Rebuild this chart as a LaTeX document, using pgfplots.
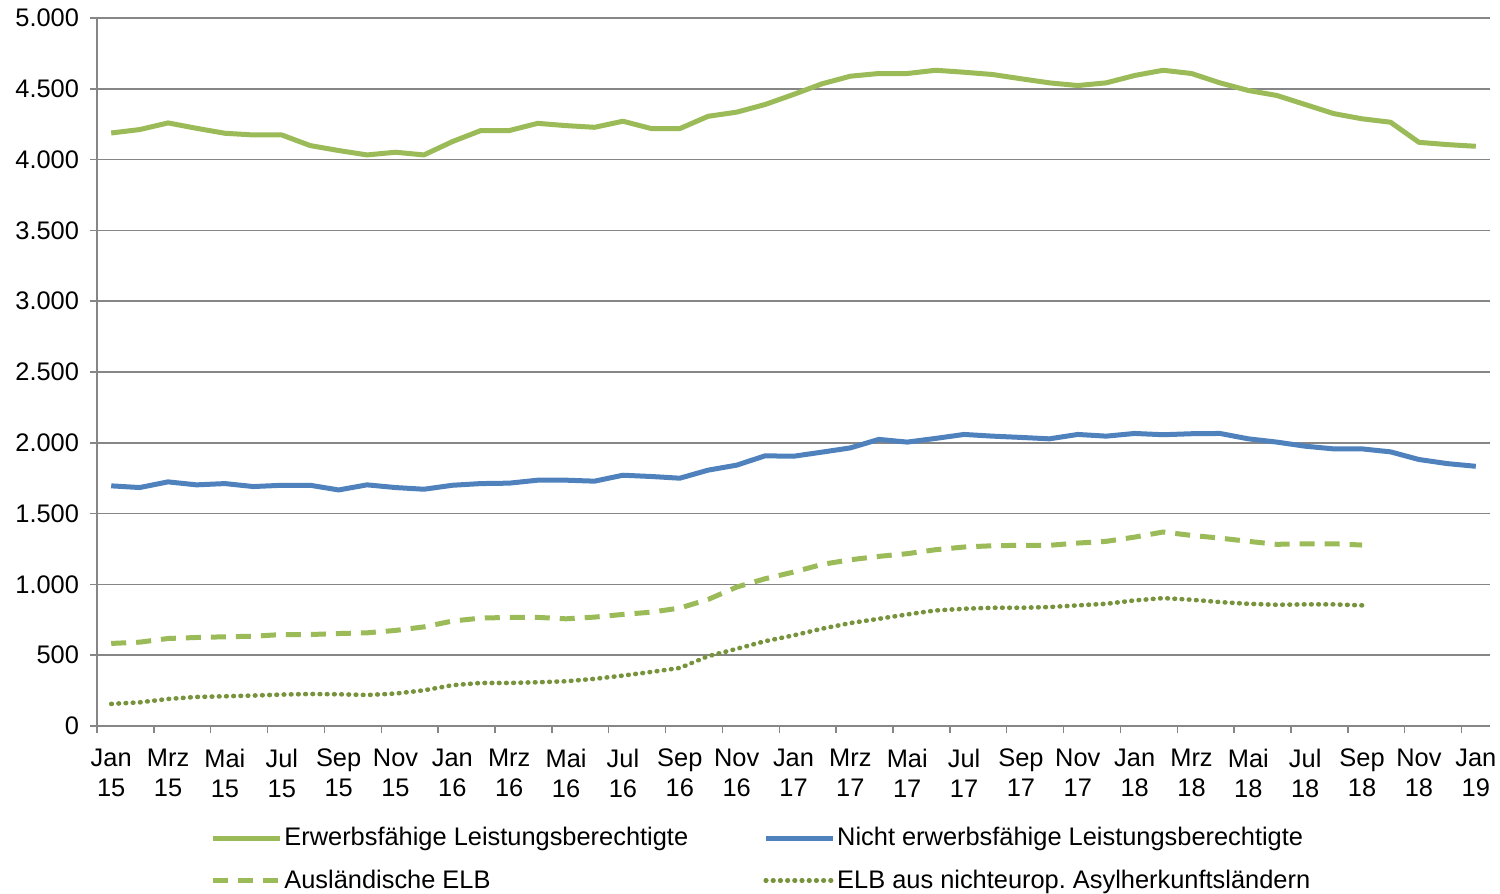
\documentclass[border=0pt]{standalone}
\usepackage{pgfplots}
\pgfplotsset{compat=1.18}
\usepackage{pgfplotstable}
\usepackage{fontspec}
\setmainfont{Liberation Sans}
\definecolor{eg}{HTML}{9BBB59}
\definecolor{eb}{HTML}{4F81BD}
\definecolor{ed}{HTML}{77933C}
\definecolor{gr}{HTML}{868686}
\pgfplotstableread{
i erw nerw ausl asyl
0 4188 1696 583 156
1 4212 1684 592 167
2 4259 1724 618 191
3 4221 1703 625 205
4 4186 1712 630 210
5 4174 1691 634 215
6 4174 1700 646 222
7 4099 1700 646 226
8 4064 1667 653 224
9 4033 1703 658 219
10 4052 1684 675 229
11 4033 1672 700 252
12 4127 1700 741 288
13 4205 1712 762 304
14 4205 1715 767 304
15 4256 1736 767 309
16 4240 1736 757 316
17 4228 1729 769 333
18 4271 1771 788 356
19 4219 1762 804 382
20 4219 1750 833 410
21 4306 1807 894 493
22 4335 1842 981 545
23 4389 1908 1040 599
24 4460 1905 1087 640
25 4535 1934 1141 687
26 4589 1964 1174 727
27 4608 2024 1198 757
28 4608 2005 1217 788
29 4631 2031 1245 816
30 4617 2059 1264 828
31 4601 2047 1273 835
32 4571 2038 1276 835
33 4542 2028 1276 840
34 4523 2059 1292 852
35 4542 2047 1304 863
36 4594 2066 1334 887
37 4631 2057 1370 903
38 4608 2064 1346 892
39 4542 2066 1327 875
40 4488 2028 1304 863
41 4453 2005 1283 856
42 4389 1976 1287 859
43 4325 1957 1287 859
44 4288 1957 1278 852
45 4264 1936 nan nan
46 4122 1882 nan nan
47 4106 1853 nan nan
48 4094 1834 nan nan
}\datatab
\frenchspacing
\begin{document}
\begin{tikzpicture}
\begin{axis}[
  at={(0,0)}, anchor=south west,
  scale only axis, width=696.5bp, height=354bp,
  font=\fontsize{12.7bp}{14.5bp}\selectfont,
  xmin=-0.5, xmax=48.5, ymin=0, ymax=5000,
  axis x line*=bottom, axis y line*=left,
  axis line style={draw=gr, line width=0.75bp},
  xtick={0,2,...,48},
  xticklabels={Jan\\15,Mrz\\15,Mai\\15,Jul\\15,Sep\\15,Nov\\15,Jan\\16,Mrz\\16,Mai\\16,Jul\\16,Sep\\16,Nov\\16,Jan\\17,Mrz\\17,Mai\\17,Jul\\17,Sep\\17,Nov\\17,Jan\\18,Mrz\\18,Mai\\18,Jul\\18,Sep\\18,Nov\\18,Jan\\19},
  xticklabel style={align=center, font=\fontsize{12.7bp}{14.8bp}\selectfont, yshift=-4.5bp},
  x tick style={draw=none},
  minor xtick={-0.5,1.5,...,47.5},
  minor x tick style={draw=gr, line width=0.75bp},
  minor tick length=3.5bp,
  ytick={0,500,...,5000},
  y tick style={draw=gr, line width=0.75bp},
  major tick length=3.5bp,
  tick align=outside,
  ymajorgrids, major grid style={draw=gr, line width=0.75bp},
  /pgf/number format/assume math mode=true,
  /pgf/number format/1000 sep={.},
  yticklabel style={font=\fontsize{12.7bp}{14.5bp}\selectfont, xshift=-2bp},
  unbounded coords=discard,
  legend columns=2,
  legend cell align=left,
  legend style={draw=none, fill=none, at={(56.5bp,-50.5bp)}, anchor=north west, inner sep=0pt,
    row sep=10.5bp,
    nodes={inner sep=0pt, font=\fontsize{12.7bp}{14.5bp}\selectfont},
    /tikz/every even column/.append style={column sep=37.5bp},
    /tikz/every odd column/.append style={column sep=1bp}},
  legend image code/.code={\draw[#1] (0bp,0bp) -- (33.5bp,0bp);},
]
\addplot[eg, line width=2.5bp, line join=round] table[x=i,y=erw]{\datatab};
\addlegendentry{Erwerbsfähige Leistungsberechtigte}
\addplot[eb, line width=2.5bp, line join=round] table[x=i,y=nerw]{\datatab};
\addlegendentry{Nicht erwerbsfähige Leistungsberechtigte}
\addplot[eg, line width=2.5bp, dash pattern=on 7.5bp off 5bp] table[x=i,y=ausl]{\datatab};
\addlegendentry{Ausländische ELB}
\addplot[ed, line width=2.3bp, line cap=round, dash pattern=on 0.3bp off 3.3bp] table[x=i,y=asyl]{\datatab};
\addlegendentry{ELB aus nichteurop.\ Asylherkunftsländern}
\end{axis}
\pgfresetboundingbox
\useasboundingbox (-48.5bp,-84bp) rectangle (701.5bp,363bp);
\end{tikzpicture}
\end{document}
